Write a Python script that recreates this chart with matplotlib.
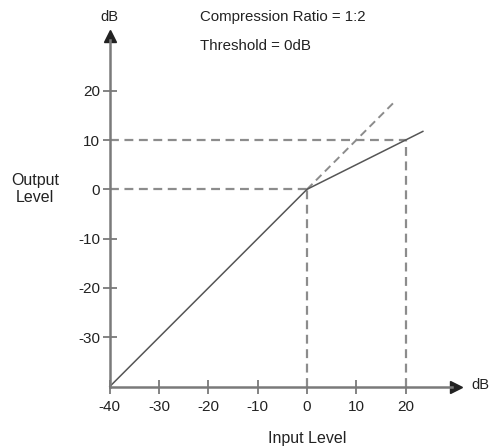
import matplotlib

matplotlib.use("Agg")
import matplotlib.pyplot as plt

plt.rcParams["font.family"] = ["Liberation Sans", "DejaVu Sans"]

# ── Data ──────────────────────────────────────────────────────────────────────
x_ticks = [-40, -30, -20, -10, 0, 10, 20]
y_ticks = [-30, -20, -10, 0, 10, 20]
axis_min = -40
x_axis_end = 31.5
y_axis_end = 32.3

# compressor curve: 1:1 below threshold, 1:2 above
curve_in = [-40, 0, 23.5]
curve_out = [-40, 0, 11.75]

# uncompressed (1:1) continuation above the threshold
linear_in = [0, 18]
linear_out = [0, 18]

# guide lines
guide_in = [0, 20]
guide_out = [0, 10]

AXIS_COL = "#7a7a7a"
DASH_COL = "#8c8c8c"
LINE_COL = "#555555"
TEXT_COL = "#222222"

fig = plt.figure(figsize=(4.91, 4.48), dpi=100)
ax = fig.add_axes([0, 0, 1, 1])
ax.set_xlim(-62.27, 37.32)
ax.set_ylim(-52.47, 38.4)

# dashed guides
for gi, go in zip(guide_in, guide_out):
    ax.plot([axis_min, gi], [go, go], ls=(0, (4, 2.5)), color=DASH_COL, lw=1.6)
    ax.plot([gi, gi], [axis_min, go], ls=(0, (4, 2.5)), color=DASH_COL, lw=1.6)
ax.plot(linear_in, linear_out, ls=(0, (4, 2.5)), color=DASH_COL, lw=1.4)

# transfer curve
ax.plot(curve_in, curve_out, color=LINE_COL, lw=1.1)

# axes with arrow heads
for sp in ["top", "right"]:
    ax.spines[sp].set_visible(False)
ax.spines["left"].set_position(("data", axis_min))
ax.spines["bottom"].set_position(("data", axis_min))
ax.spines["left"].set_bounds(axis_min, y_axis_end - 2)
ax.spines["bottom"].set_bounds(axis_min, x_axis_end - 2)
for sp in ["left", "bottom"]:
    ax.spines[sp].set_color(AXIS_COL)
    ax.spines[sp].set_linewidth(1.8)
ax.plot([axis_min], [y_axis_end - 1.3], marker="^", color="#222222", ms=8,
        clip_on=False)
ax.plot([x_axis_end - 1.3], [axis_min], marker=">", color="#222222", ms=8,
        clip_on=False)

ax.set_xticks(x_ticks)
ax.set_yticks(y_ticks)
ax.set_xticklabels([str(v) for v in x_ticks])
ax.set_yticklabels([str(v) for v in y_ticks])
ax.tick_params(axis="x", direction="inout", length=10, width=1.3,
               color=AXIS_COL, labelsize=11, labelcolor=TEXT_COL, pad=5)
ax.tick_params(axis="y", direction="inout", length=10, width=1.3,
               color=AXIS_COL, labelsize=11, labelcolor=TEXT_COL, pad=2)

# text
ax.text(axis_min, 34.9, "dB", ha="center", va="center", fontsize=10.5,
        color=TEXT_COL)
ax.text(33.4, -39.7, "dB", ha="left", va="center", fontsize=10.5,
        color=TEXT_COL, clip_on=False)
ax.text(-21.7, 34.9, "Compression Ratio = 1:2", ha="left", va="center",
        fontsize=10.8, color=TEXT_COL)
ax.text(-21.7, 29.0, "Threshold = 0dB", ha="left", va="center",
        fontsize=10.8, color=TEXT_COL)
ax.text(-55.2, 0, "Output\nLevel", ha="center", va="center", fontsize=11.5,
        color=TEXT_COL, linespacing=1.15)
ax.text(0, -50.5, "Input Level", ha="center", va="center", fontsize=11.5,
        color=TEXT_COL)

fig.savefig("out.png", dpi=100)
